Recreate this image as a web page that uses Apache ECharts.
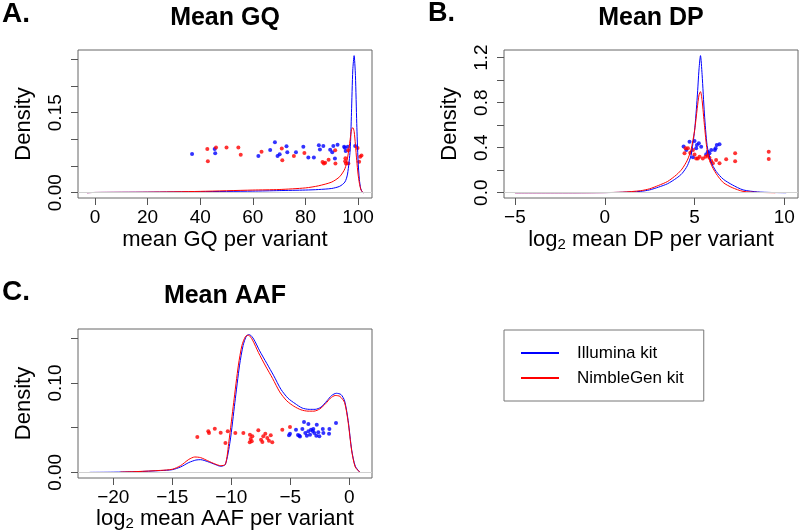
<!DOCTYPE html>
<html>
<head>
<meta charset="utf-8">
<title>Mean GQ / DP / AAF</title>
<script src="https://cdn.jsdelivr.net/npm/echarts@6/dist/echarts.min.js"></script>
<style>
html,body{margin:0;padding:0;background:#fff;}
#main{width:800px;height:532px;}
</style>
</head>
<body>
<div id="main"></div>
<script>
var FONT = '"Liberation Sans", Arial, Helvetica, sans-serif';

// ---- A. Mean GQ : density curves
var gqIlluX = [-3, 0, 20, 40, 60, 70, 80, 85, 90, 93, 95, 96, 97, 97.5, 98, 98.5, 99, 99.5, 100, 100.5, 101, 101.5, 102];
var gqIlluY = [0, 0.0005, 0.001, 0.002, 0.003, 0.004, 0.005, 0.006, 0.008, 0.012, 0.02, 0.035, 0.08, 0.15, 0.23, 0.257, 0.22, 0.13, 0.06, 0.025, 0.008, 0.002, 0];
var gqNimbX = [-3, 0, 20, 40, 60, 70, 80, 85, 90, 93, 95, 96, 97, 97.5, 98, 98.5, 99, 99.5, 100, 100.5, 101, 101.5, 102];
var gqNimbY = [0, 0.0005, 0.001, 0.0025, 0.005, 0.006, 0.009, 0.013, 0.02, 0.03, 0.045, 0.065, 0.1, 0.118, 0.122, 0.115, 0.09, 0.06, 0.035, 0.018, 0.007, 0.002, 0];
// strip points (value, jittered height)
var gqIlluPtX = [36.9, 45.5, 45.7, 62.1, 66.6, 68.4, 69.4, 70.2, 72.8, 73.1, 76.4, 79.2, 81.1, 83.2, 85.1, 85.5, 86.8, 89.4, 90.2, 90.6, 91.2, 92.2, 94.7, 95.0, 95.3, 96.1, 98.9];
var gqIlluPtY = [0.0726, 0.082, 0.074, 0.069, 0.080, 0.0945, 0.069, 0.072, 0.087, 0.076, 0.076, 0.086, 0.066, 0.066, 0.089, 0.081, 0.0875, 0.0806, 0.0757, 0.0875, 0.064, 0.09, 0.086, 0.0844, 0.078, 0.086, 0.0875];
var gqNimbPtX = [42.7, 42.9, 46.0, 50.0, 54.5, 55.4, 63.3, 71.0, 71.2, 75.6, 79.6, 86.5, 87.0, 87.5, 88.8, 91.3, 91.4, 95.1, 95.2, 95.4, 96.3, 96.3, 99.8, 100.4, 100.8, 101.3];
var gqNimbPtY = [0.082, 0.059, 0.085, 0.085, 0.085, 0.0713, 0.077, 0.083, 0.061, 0.069, 0.0745, 0.0576, 0.055, 0.056, 0.062, 0.0795, 0.055, 0.059, 0.0645, 0.055, 0.055, 0.0795, 0.084, 0.058, 0.0675, 0.07];
var gqXTicks = [0, 20, 40, 60, 80, 100];
var gqYTicks = [0, 0.05, 0.10, 0.15, 0.20, 0.25];
var gqYLabels = [0, 0.15];

// ---- B. Mean DP
var dpIlluX = [-5, -2, 0, 1, 2, 2.5, 3, 3.5, 4, 4.3, 4.6, 4.8, 5.0, 5.15, 5.25, 5.33, 5.42, 5.55, 5.7, 5.9, 6.2, 6.6, 7.1, 7.7, 8.5, 9.3, 10.1];
var dpIlluY = [0, 0, 0.001, 0.004, 0.012, 0.025, 0.05, 0.08, 0.13, 0.17, 0.24, 0.33, 0.55, 0.85, 1.1, 1.218, 1.05, 0.7, 0.42, 0.28, 0.19, 0.12, 0.07, 0.025, 0.007, 0.002, 0];
var dpNimbX = [-5, -2, 0, 1, 2, 2.5, 3, 3.5, 4, 4.3, 4.6, 4.8, 5.0, 5.15, 5.25, 5.33, 5.42, 5.55, 5.7, 5.9, 6.2, 6.6, 7.1, 7.7, 8.5, 9.5];
var dpNimbY = [0, 0, 0.001, 0.005, 0.018, 0.035, 0.065, 0.1, 0.16, 0.21, 0.29, 0.38, 0.55, 0.75, 0.87, 0.898, 0.82, 0.6, 0.38, 0.26, 0.17, 0.09, 0.045, 0.012, 0.003, 0];
var dpIlluPtX = [4.39, 4.54, 4.72, 4.91, 5.0, 5.09, 5.13, 5.24, 5.37, 5.65, 5.74, 5.83, 5.93, 6.13, 6.17, 6.24, 6.39];
var dpIlluPtY = [0.41, 0.38, 0.453, 0.315, 0.46, 0.395, 0.424, 0.44, 0.409, 0.341, 0.364, 0.35, 0.38, 0.38, 0.395, 0.424, 0.43];
var dpNimbPtX = [4.44, 4.5, 4.63, 4.76, 4.91, 5.0, 5.09, 5.18, 5.28, 5.46, 5.61, 5.74, 5.83, 5.93, 6.02, 6.2, 6.39, 6.76, 7.26, 7.26, 9.13, 9.13];
var dpNimbPtY = [0.35, 0.394, 0.395, 0.356, 0.38, 0.34, 0.305, 0.305, 0.32, 0.305, 0.32, 0.33, 0.311, 0.282, 0.261, 0.29, 0.261, 0.297, 0.35, 0.28, 0.364, 0.30];
var dpXTicks = [-5, 0, 5, 10];
var dpYTicks = [0, 0.2, 0.4, 0.6, 0.8, 1.0, 1.2];
var dpYLabels = [0, 0.4, 0.8, 1.2];

// ---- C. Mean AAF
var aafIlluX = [-22, -20, -18, -16, -15, -14.3, -13.6, -13.0, -12.6, -12.0, -11.4, -10.9, -10.5, -10.1, -9.7, -9.3, -9.0, -8.7, -8.45, -8.1, -7.6, -7.0, -6.4, -5.8, -5.2, -4.6, -4.0, -3.4, -2.9, -2.4, -1.9, -1.5, -1.1, -0.7, -0.4, -0.1, 0.2, 0.5, 0.9];
var aafIlluY = [0, 0.0002, 0.0008, 0.002, 0.003, 0.006, 0.011, 0.0138, 0.0142, 0.012, 0.009, 0.0068, 0.009, 0.035, 0.078, 0.12, 0.142, 0.153, 0.154, 0.149, 0.136, 0.122, 0.108, 0.093, 0.083, 0.077, 0.072, 0.0705, 0.0705, 0.073, 0.08, 0.086, 0.0885, 0.087, 0.08, 0.058, 0.025, 0.007, 0];
var aafNimbX = [-19.4, -18, -16, -15, -14.3, -13.6, -13.1, -12.6, -12.0, -11.4, -10.9, -10.5, -10.2, -9.8, -9.4, -9.1, -8.8, -8.55, -8.2, -7.7, -7.1, -6.5, -5.9, -5.3, -4.7, -4.1, -3.5, -3.0, -2.5, -2.0, -1.6, -1.2, -0.8, -0.4, -0.1, 0.2, 0.5, 0.9];
var aafNimbY = [0.0003, 0.0009, 0.0022, 0.0035, 0.0075, 0.0145, 0.0172, 0.0165, 0.013, 0.0095, 0.0075, 0.009, 0.035, 0.078, 0.12, 0.142, 0.152, 0.1535, 0.148, 0.134, 0.119, 0.105, 0.09, 0.08, 0.074, 0.07, 0.0685, 0.0685, 0.071, 0.077, 0.083, 0.086, 0.085, 0.078, 0.056, 0.024, 0.006, 0];
var aafIlluPtX = [-5.03, -5.11, -4.52, -4.35, -4.24, -4.18, -3.98, -3.84, -3.73, -3.6, -3.47, -3.47, -3.33, -3.25, -3.1, -3.05, -2.97, -2.8, -2.76, -2.63, -2.54, -2.25, -2.2, -1.72, -1.69, -1.13];
var aafIlluPtY = [0.0433, 0.0414, 0.0478, 0.0419, 0.041, 0.04, 0.0485, 0.0564, 0.044, 0.041, 0.0541, 0.0459, 0.0422, 0.0478, 0.0463, 0.0485, 0.044, 0.041, 0.0534, 0.0448, 0.0403, 0.0485, 0.044, 0.0433, 0.0485, 0.0553];
var aafNimbPtX = [-12.88, -11.95, -11.89, -11.4, -10.9, -10.5, -10.3, -9.66, -8.98, -8.42, -8.36, -8.27, -8.44, -8.22, -7.71, -7.48, -7.37, -7.29, -7.12, -6.95, -6.81, -6.66, -6.53, -5.68, -5.03];
var aafNimbPtY = [0.0396, 0.0459, 0.044, 0.0489, 0.0444, 0.0329, 0.0459, 0.044, 0.044, 0.0422, 0.0374, 0.0347, 0.0336, 0.0403, 0.047, 0.0366, 0.034, 0.0403, 0.0433, 0.0385, 0.0355, 0.0414, 0.0336, 0.0478, 0.0508];
var aafXTicks = [-20, -15, -10, -5, 0];
var aafYTicks = [0, 0.05, 0.10, 0.15];
var aafYLabels = [0, 0.10];

var BLUE = '#0000ff', RED = '#ff0000';

function zip(xs, ys) {
    return xs.map(function (x, i) { return [x, ys[i]]; });
}
function minus(v) {
    return String(v).replace('-', '\u2212');
}

function xAxisOf(idx, min, max, ticks, name, gap) {
    return {
        gridIndex: idx, type: 'value', min: min, max: max,
        axisLine: { show: false, onZero: false },
        splitLine: { show: false },
        axisTick: { show: true, length: 7, customValues: ticks, lineStyle: { color: '#555' } },
        axisLabel: { customValues: ticks, formatter: minus, fontSize: 19, color: '#000', fontFamily: FONT, margin: 10 },
        name: name, nameLocation: 'middle', nameGap: gap,
        nameTextStyle: {
            fontSize: 22, color: '#000', fontFamily: FONT,
            rich: {
                n: { fontSize: 22, lineHeight: 24, color: '#000', fontFamily: FONT },
                s: { fontSize: 15, lineHeight: 12, verticalAlign: 'bottom', color: '#000', fontFamily: FONT }
            }
        }
    };
}
function yAxisOf(idx, min, max, ticks, labels, digits) {
    return {
        gridIndex: idx, type: 'value', min: min, max: max,
        axisLine: { show: false, onZero: false },
        splitLine: { show: false },
        axisTick: { show: true, length: 7, customValues: ticks, lineStyle: { color: '#555' } },
        axisLabel: {
            customValues: labels, rotate: 90, fontSize: 19, color: '#000', fontFamily: FONT, margin: 13,
            formatter: function (v) { return v.toFixed(digits); }
        },
        name: 'Density', nameLocation: 'middle', nameGap: 43,
        nameTextStyle: { fontSize: 22, color: '#000', fontFamily: FONT }
    };
}
function curve(name, idx, xs, ys, color, zero) {
    var s = {
        name: name, type: 'line', xAxisIndex: idx, yAxisIndex: idx,
        data: zip(xs, ys), showSymbol: false, smooth: 0.25,
        lineStyle: { color: color, width: 1 }, itemStyle: { color: color }
    };
    if (zero) {
        s.markLine = {
            silent: true, symbol: 'none', label: { show: false },
            lineStyle: { color: '#d0d0d0', type: 'solid', width: 1 },
            data: [{ yAxis: 0 }]
        };
    }
    return s;
}
function points(name, idx, xs, ys, color) {
    return {
        name: name, type: 'scatter', xAxisIndex: idx, yAxisIndex: idx,
        data: zip(xs, ys), symbolSize: 4, itemStyle: { color: color }
    };
}
function label(text, x, y, size, align) {
    return {
        type: 'text', x: x, y: y,
        style: { text: text, fontSize: size, fontWeight: 'bold', fontFamily: FONT, fill: '#000', align: align, verticalAlign: 'middle' }
    };
}

var myChart = echarts.init(document.getElementById('main'));
var option = {
    animation: false,
    grid: [
        { left: 78, top: 50, width: 294, height: 148, show: true, borderColor: '#666', borderWidth: 1 },
        { left: 504, top: 50, width: 294, height: 148, show: true, borderColor: '#666', borderWidth: 1 },
        { left: 78, top: 329, width: 294, height: 149, show: true, borderColor: '#666', borderWidth: 1 }
    ],
    xAxis: [
        xAxisOf(0, -6.46, 105.3, gqXTicks, 'mean GQ per variant', 31),
        xAxisOf(1, -5.61, 10.76, dpXTicks, '{n|log}{s|2}{n| mean DP per variant}', 30),
        xAxisOf(2, -22.99, 1.92, aafXTicks, '{n|log}{s|2}{n| mean AAF per variant}', 26)
    ],
    yAxis: [
        yAxisOf(0, -0.0099, 0.2676, gqYTicks, gqYLabels, 2),
        yAxisOf(1, -0.047, 1.268, dpYTicks, dpYLabels, 1),
        yAxisOf(2, -0.0063, 0.1604, aafYTicks, aafYLabels, 2)
    ],
    legend: {
        orient: 'vertical', left: 504, top: 330,
        data: ['Illumina kit', 'NimbleGen kit'],
        icon: 'rect', itemWidth: 38, itemHeight: 2, itemGap: 5,
        padding: [13, 20, 13, 17],
        borderColor: '#777', borderWidth: 1,
        selectedMode: false,
        textStyle: { fontSize: 17, lineHeight: 20, color: '#000', fontFamily: FONT, padding: [0, 0, 0, 13] }
    },
    graphic: [
        label('A.', 2, 14, 28, 'left'),
        label('Mean GQ', 225, 18, 25, 'center'),
        label('B.', 428, 14, 27, 'left'),
        label('Mean DP', 651, 18, 25, 'center'),
        label('C.', 2, 292, 28, 'left'),
        label('Mean AAF', 225, 296, 25, 'center')
    ],
    series: [
        curve('Illumina kit', 0, gqIlluX, gqIlluY, BLUE, true),
        curve('NimbleGen kit', 0, gqNimbX, gqNimbY, RED),
        points('Illumina kit', 0, gqIlluPtX, gqIlluPtY, BLUE),
        points('NimbleGen kit', 0, gqNimbPtX, gqNimbPtY, RED),

        curve('Illumina kit', 1, dpIlluX, dpIlluY, BLUE, true),
        curve('NimbleGen kit', 1, dpNimbX, dpNimbY, RED),
        points('Illumina kit', 1, dpIlluPtX, dpIlluPtY, BLUE),
        points('NimbleGen kit', 1, dpNimbPtX, dpNimbPtY, RED),

        curve('Illumina kit', 2, aafIlluX, aafIlluY, BLUE, true),
        curve('NimbleGen kit', 2, aafNimbX, aafNimbY, RED),
        points('Illumina kit', 2, aafIlluPtX, aafIlluPtY, BLUE),
        points('NimbleGen kit', 2, aafNimbPtX, aafNimbPtY, RED)
    ]
};
myChart.setOption(option);
</script>
</body>
</html>
